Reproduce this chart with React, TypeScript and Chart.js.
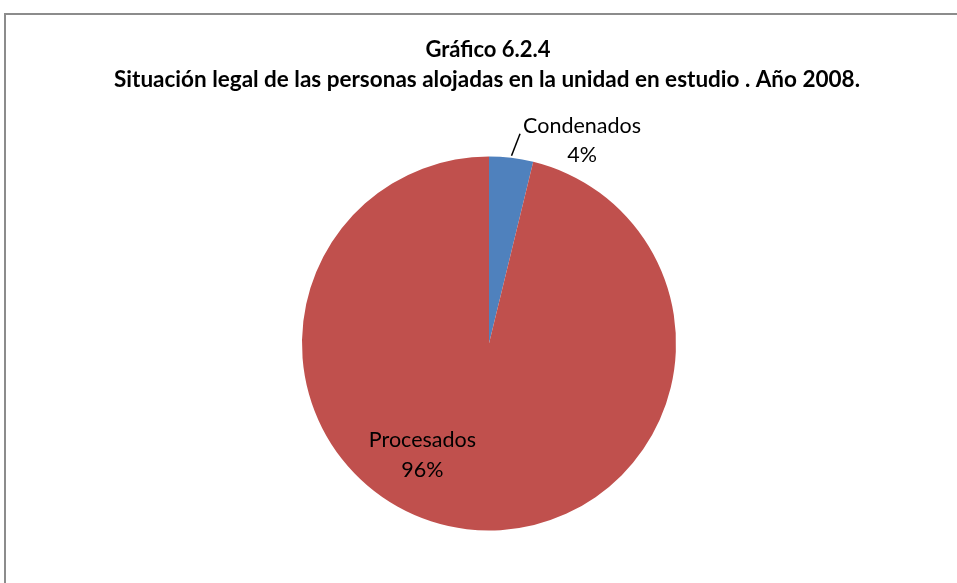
import React, { useEffect, useRef } from "react";
import { Chart, registerables } from "chart.js";

Chart.register(...registerables);

const categories = ["Condenados", "Procesados"];
const values = [3.8, 96.2];
const colors = ["#4F81BD", "#C0504D"];
const titleLines = ["Gráfico 6.2.4", "Situación legal de las personas alojadas en la unidad en estudio . Año 2008."];

const FONT = "Lato, 'Open Sans', sans-serif";

const decorPlugin = {
  id: "decor",
  beforeDraw(chart: any) {
    const ctx = chart.ctx;
    ctx.save();
    ctx.fillStyle = "#ffffff";
    ctx.fillRect(0, 0, chart.width, chart.height);
    ctx.strokeStyle = "#8c8c8c";
    ctx.lineWidth = 2;
    ctx.strokeRect(5, 14, chart.width + 20, chart.height + 20);
    ctx.fillStyle = "#000000";
    ctx.textAlign = "center";
    ctx.textBaseline = "middle";
    ctx.font = `bold 22px ${FONT}`;
    ctx.fillText(titleLines[0], 488, 50);
    ctx.font = `bold 22.5px ${FONT}`;
    ctx.fillText(titleLines[1], 487, 80);
    ctx.restore();
  },
  afterDatasetsDraw(chart: any) {
    const ctx = chart.ctx;
    const meta = chart.getDatasetMeta(0);
    const total = values.reduce((a, b) => a + b, 0);
    ctx.save();
    ctx.fillStyle = "#000000";
    ctx.textAlign = "center";
    ctx.textBaseline = "middle";
    ctx.font = `21.5px ${FONT}`;
    meta.data.forEach((arc: any, i: number) => {
      const { x, y, outerRadius: r, startAngle, endAngle } = arc.getProps(["x", "y", "outerRadius", "startAngle", "endAngle"], true);
      const pct = Math.round((values[i] / total) * 100) + "%";
      const mid = (startAngle + endAngle) / 2;
      if (i === 0) {
        // outside label with leader line
        const x1 = x + Math.cos(mid) * (r + 2);
        const y1 = y + Math.sin(mid) * (r + 2);
        const x2 = x + r * 0.166;
        const y2 = y - r * 1.122;
        ctx.strokeStyle = "#000000";
        ctx.lineWidth = 1.5;
        ctx.beginPath();
        ctx.moveTo(x1, y1);
        ctx.lineTo(x2, y2);
        ctx.stroke();
        const w = ctx.measureText(categories[i]).width;
        const cxLabel = x2 + 3 + w / 2;
        ctx.fillText(categories[i], cxLabel, y - r * 1.163);
        ctx.fillText(pct, cxLabel, y - r * 1.01);
      } else {
        const a = 120.8 * Math.PI / 180;
        const lx = x + Math.cos(a) * r * 0.695;
        const ly = y + Math.sin(a) * r * 0.695;
        ctx.fillText(categories[i], lx, ly - 15);
        ctx.fillText(pct, lx, ly + 15);
      }
    });
    ctx.restore();
  },
};

export default function App() {
  const ref = useRef<HTMLCanvasElement | null>(null);
  useEffect(() => {
    document.body.style.margin = "0";
    const chart = new Chart(ref.current as HTMLCanvasElement, {
      type: "pie",
      data: {
        labels: categories,
        datasets: [
          {
            data: values,
            backgroundColor: colors,
            borderWidth: 0,
          },
        ],
      },
      options: {
        animation: false,
        responsive: false,
        layout: { padding: { left: 21, right: 0, top: 156.5, bottom: 52.5 } },
        plugins: {
          legend: { display: false },
          title: { display: false },
          tooltip: { enabled: false },
        },
      },
      plugins: [decorPlugin],
    });
    return () => chart.destroy();
  }, []);
  return (
    <div style={{ width: 957, height: 583 }}>
      <canvas ref={ref} width={957} height={583} style={{ display: "block" }} />
    </div>
  );
}
